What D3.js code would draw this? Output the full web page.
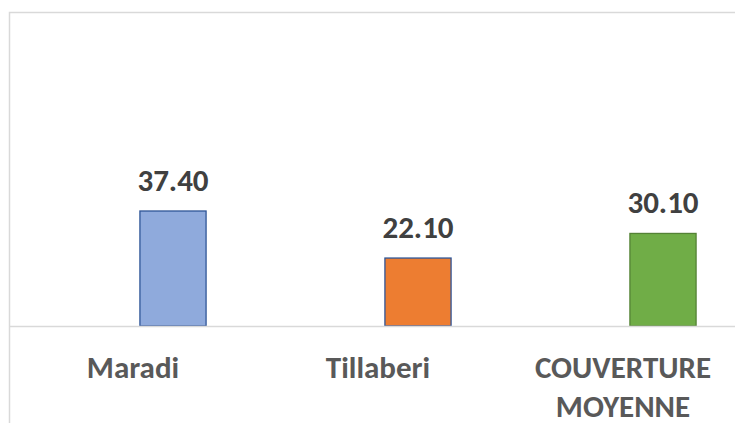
<!DOCTYPE html>
<html>
<head>
<meta charset="utf-8">
<script src="https://cdn.jsdelivr.net/npm/d3@7"></script>
<style>
  html, body { margin: 0; padding: 0; background: #fff; }
  svg { display: block; }
</style>
</head>
<body>
<svg id="chart" width="735" height="423"></svg>
<script>
// data
const categories = ["Maradi", "Tillaberi", "COUVERTURE MOYENNE"];
const labelLines = [["Maradi"], ["Tillaberi"], ["COUVERTURE", "MOYENNE"]];
const values = [37.40, 22.10, 30.10];
const fills = ["#8FAADC", "#ED7D31", "#70AD47"];
const strokes = ["#2F5597", "#2F5597", "#548235"];

const width = 735;
const height = 423;
const baseY = 326;

const svg = d3.select("#chart");

// outer chart frame (top and left edge visible)
svg.append("path")
  .attr("d", `M9.5,${height} V12.5 H${width}`)
  .attr("fill", "none")
  .attr("stroke", "#d9d9d9")
  .attr("stroke-width", 1.5);

const x = d3.scaleBand()
  .domain(categories)
  .range([50.5, 785.5])
  .paddingInner(0.73)
  .paddingOuter(0.365);

const y = d3.scaleLinear()
  .domain([0, 100])
  .range([baseY, 18.5]);

// bars
svg.selectAll("rect.bar")
  .data(values)
  .enter()
  .append("rect")
  .attr("class", "bar")
  .attr("x", (d, i) => x(categories[i]))
  .attr("y", d => y(d))
  .attr("width", x.bandwidth())
  .attr("height", d => y(0) - y(d))
  .attr("fill", (d, i) => fills[i])
  .attr("stroke", (d, i) => strokes[i])
  .attr("stroke-width", 1.3);

// category axis line
svg.append("line")
  .attr("x1", 10).attr("x2", width)
  .attr("y1", y(0) + 0.5).attr("y2", y(0) + 0.5)
  .attr("stroke", "#d9d9d9")
  .attr("stroke-width", 1.5);

// value labels
svg.selectAll("text.val")
  .data(values)
  .enter()
  .append("text")
  .attr("class", "val")
  .attr("x", (d, i) => x(categories[i]) + x.bandwidth() / 2)
  .attr("y", d => y(d) - 20)
  .attr("text-anchor", "middle")
  .attr("font-family", "Calibri, Carlito, 'Open Sans', sans-serif")
  .attr("font-weight", "bold")
  .attr("font-size", 31)
  .attr("fill", "#404040")
  .text(d => d.toFixed(2));

// category labels (sit a bit left of the bars, as in the original)
const cat = svg.selectAll("text.cat")
  .data(categories)
  .enter()
  .append("text")
  .attr("class", "cat")
  .attr("x", d => x(d) + x.bandwidth() / 2 - 40)
  .attr("y", 378)
  .attr("text-anchor", "middle")
  .attr("font-family", "Calibri, Carlito, 'Open Sans', sans-serif")
  .attr("font-weight", "bold")
  .attr("font-size", 31)
  .attr("fill", "#595959");

cat.selectAll("tspan")
  .data((d, i) => labelLines[i])
  .enter()
  .append("tspan")
  .attr("x", function() { return d3.select(this.parentNode).attr("x"); })
  .attr("dy", (d, j) => j === 0 ? 0 : 39)
  .text(d => d);
</script>
</body>
</html>
